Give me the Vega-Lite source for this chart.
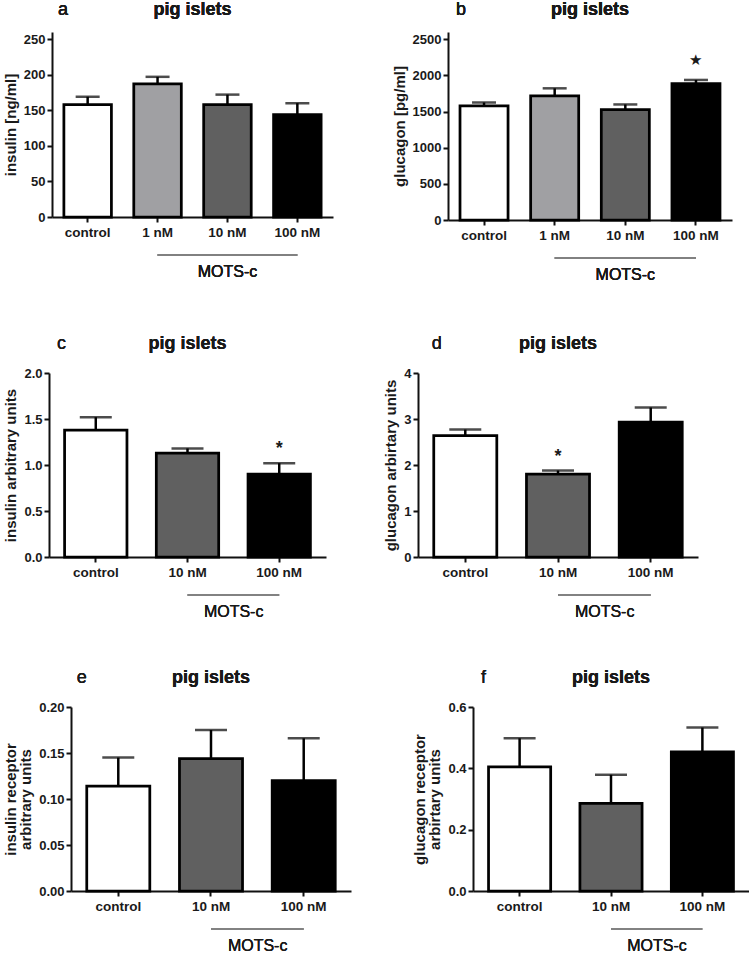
{
  "$schema": "https://vega.github.io/schema/vega-lite/v6.json",
  "padding": {"left": 3, "top": 1, "right": 0, "bottom": 0},
  "background": "white",
  "datasets": {
    "A": [
      {"group": "control", "mean": 158, "hi": 169, "star": ""},
      {"group": "1 nM", "mean": 187, "hi": 197, "star": ""},
      {"group": "10 nM", "mean": 158, "hi": 172, "star": ""},
      {"group": "100 nM", "mean": 144, "hi": 160, "star": ""}
    ],
    "B": [
      {"group": "control", "mean": 1577, "hi": 1625, "star": ""},
      {"group": "1 nM", "mean": 1718, "hi": 1821, "star": ""},
      {"group": "10 nM", "mean": 1528, "hi": 1598, "star": ""},
      {"group": "100 nM", "mean": 1887, "hi": 1937, "star": "★"}
    ],
    "C": [
      {"group": "control", "mean": 1.38, "hi": 1.52, "star": ""},
      {"group": "10 nM", "mean": 1.13, "hi": 1.18, "star": ""},
      {"group": "100 nM", "mean": 0.9, "hi": 1.02, "star": "*"}
    ],
    "D": [
      {"group": "control", "mean": 2.64, "hi": 2.77, "star": ""},
      {"group": "10 nM", "mean": 1.8, "hi": 1.88, "star": "*"},
      {"group": "100 nM", "mean": 2.93, "hi": 3.25, "star": ""}
    ],
    "E": [
      {"group": "control", "mean": 0.114, "hi": 0.145, "star": ""},
      {"group": "10 nM", "mean": 0.144, "hi": 0.175, "star": ""},
      {"group": "100 nM", "mean": 0.12, "hi": 0.166, "star": ""}
    ],
    "F": [
      {"group": "control", "mean": 0.405, "hi": 0.498, "star": ""},
      {"group": "10 nM", "mean": 0.286, "hi": 0.379, "star": ""},
      {"group": "100 nM", "mean": 0.454, "hi": 0.533, "star": ""}
    ]
  },
  "columns": 1,
  "align": "none",
  "spacing": 52,
  "concat": [
    {
      "spacing": 59,
      "hconcat": [
        {
          "width": 284, "height": 185,
          "data": {"name": "A"},
          "encoding": {"x": {"field": "group", "type": "nominal", "sort": null, "scale": {"domain": ["control", "1 nM", "10 nM", "100 nM"], "range": [3, 284], "paddingInner": 0.32, "paddingOuter": 0.17}, "axis": {"title": null, "labelAngle": 0}}},
          "layer": [
            {"mark": {"type": "rule", "strokeWidth": 2.5, "color": "black"}, "encoding": {"y": {"field": "mean", "type": "quantitative", "scale": {"domain": [0, 250]}, "axis": {"title": "insulin [ng/ml]", "values": [0, 50, 100, 150, 200, 250], "format": "d", "offset": -3}}, "y2": {"field": "hi"}}},
            {"mark": {"type": "tick", "size": 24, "thickness": 2.5, "color": "black"}, "encoding": {"y": {"field": "hi", "type": "quantitative", "axis": {"title": "insulin [ng/ml]", "values": [0, 50, 100, 150, 200, 250], "format": "d", "offset": -3}}}},
            {"mark": {"type": "bar", "stroke": "black", "strokeWidth": 2.75}, "encoding": {"y": {"field": "mean", "type": "quantitative", "axis": {"title": "insulin [ng/ml]", "values": [0, 50, 100, 150, 200, 250], "format": "d", "offset": -3}}, "fill": {"field": "group", "type": "nominal", "scale": {"domain": ["control", "1 nM", "10 nM", "100 nM"], "range": ["#ffffff", "#a0a0a3", "#606060", "#000000"]}, "legend": null}}},
            {"mark": {"type": "text", "fontSize": 18, "dy": -29, "dx": -1}, "encoding": {"x": {"datum": "control", "bandPosition": 0}, "y": {"datum": 250, "axis": {"title": "insulin [ng/ml]", "values": [0, 50, 100, 150, 200, 250], "format": "d", "offset": -3}}, "text": {"value": "a"}}},
            {"mark": {"type": "text", "fontSize": 18, "fontWeight": "bold", "dy": -29}, "encoding": {"x": {"datum": "1 nM", "bandPosition": 1.235}, "y": {"datum": 250, "axis": {"title": "insulin [ng/ml]", "values": [0, 50, 100, 150, 200, 250], "format": "d", "offset": -3}}, "text": {"value": "pig islets"}}},
            {"mark": {"type": "rule", "color": "#808080", "strokeWidth": 1.5, "yOffset": 38}, "encoding": {"x": {"datum": "1 nM"}, "x2": {"datum": "100 nM"}, "y": {"datum": 0, "axis": {"title": "insulin [ng/ml]", "values": [0, 50, 100, 150, 200, 250], "format": "d", "offset": -3}}}},
            {"mark": {"type": "text", "fontSize": 16, "dy": 55}, "encoding": {"x": {"datum": "10 nM"}, "y": {"datum": 0, "axis": {"title": "insulin [ng/ml]", "values": [0, 50, 100, 150, 200, 250], "format": "d", "offset": -3}}, "text": {"value": "MOTS-c"}}}
          ]
        },
        {
          "width": 284, "height": 188,
          "data": {"name": "B"},
          "encoding": {"x": {"field": "group", "type": "nominal", "sort": null, "scale": {"domain": ["control", "1 nM", "10 nM", "100 nM"], "paddingInner": 0.32, "paddingOuter": 0.17}, "axis": {"title": null, "labelAngle": 0}}},
          "layer": [
            {"mark": {"type": "rule", "strokeWidth": 2.5, "color": "black"}, "encoding": {"y": {"field": "mean", "type": "quantitative", "scale": {"domain": [0, 2500]}, "axis": {"title": "glucagon [pg/ml]", "values": [0, 500, 1000, 1500, 2000, 2500], "format": "d"}}, "y2": {"field": "hi"}}},
            {"mark": {"type": "tick", "size": 24, "thickness": 2.5, "color": "black"}, "encoding": {"y": {"field": "hi", "type": "quantitative", "axis": {"title": "glucagon [pg/ml]", "values": [0, 500, 1000, 1500, 2000, 2500], "format": "d"}}}},
            {"mark": {"type": "bar", "stroke": "black", "strokeWidth": 2.75}, "encoding": {"y": {"field": "mean", "type": "quantitative", "axis": {"title": "glucagon [pg/ml]", "values": [0, 500, 1000, 1500, 2000, 2500], "format": "d"}}, "fill": {"field": "group", "type": "nominal", "scale": {"domain": ["control", "1 nM", "10 nM", "100 nM"], "range": ["#ffffff", "#a0a0a3", "#606060", "#000000"]}, "legend": null}}},
            {"mark": {"type": "text", "fontSize": 15, "dy": -20, "baseline": "middle"}, "encoding": {"y": {"field": "hi", "type": "quantitative", "axis": {"title": "glucagon [pg/ml]", "values": [0, 500, 1000, 1500, 2000, 2500], "format": "d"}}, "text": {"field": "star"}}},
            {"mark": {"type": "text", "fontSize": 18, "dy": -29, "dx": 1}, "encoding": {"x": {"datum": "control", "bandPosition": 0}, "y": {"datum": 2500, "axis": {"title": "glucagon [pg/ml]", "values": [0, 500, 1000, 1500, 2000, 2500], "format": "d"}}, "text": {"value": "b"}}},
            {"mark": {"type": "text", "fontSize": 18, "fontWeight": "bold", "dy": -29}, "encoding": {"x": {"datum": "1 nM", "bandPosition": 1.235}, "y": {"datum": 2500, "axis": {"title": "glucagon [pg/ml]", "values": [0, 500, 1000, 1500, 2000, 2500], "format": "d"}}, "text": {"value": "pig islets"}}},
            {"mark": {"type": "rule", "color": "#808080", "strokeWidth": 1.5, "yOffset": 38}, "encoding": {"x": {"datum": "1 nM"}, "x2": {"datum": "100 nM"}, "y": {"datum": 0, "axis": {"title": "glucagon [pg/ml]", "values": [0, 500, 1000, 1500, 2000, 2500], "format": "d"}}}},
            {"mark": {"type": "text", "fontSize": 16, "dy": 55}, "encoding": {"x": {"datum": "10 nM"}, "y": {"datum": 0, "axis": {"title": "glucagon [pg/ml]", "values": [0, 500, 1000, 1500, 2000, 2500], "format": "d"}}, "text": {"value": "MOTS-c"}}}
          ]
        }
      ]
    },
    {
      "columns": 1,
      "align": "none",
      "spacing": 49,
      "concat": [
        {
          "spacing": 57,
          "hconcat": [
            {
              "width": 277, "height": 184,
              "data": {"name": "C"},
              "encoding": {"x": {"field": "group", "type": "nominal", "sort": null, "scale": {"domain": ["control", "10 nM", "100 nM"], "paddingInner": 0.32, "paddingOuter": 0.17}, "axis": {"title": null, "labelAngle": 0}}},
              "layer": [
                {"mark": {"type": "rule", "strokeWidth": 2.5, "color": "black"}, "encoding": {"y": {"field": "mean", "type": "quantitative", "scale": {"domain": [0, 2]}, "axis": {"title": "insulin arbitrary units", "values": [0, 0.5, 1, 1.5, 2], "format": ".1f"}}, "y2": {"field": "hi"}}},
                {"mark": {"type": "tick", "size": 32, "thickness": 2.5, "color": "black"}, "encoding": {"y": {"field": "hi", "type": "quantitative", "axis": {"title": "insulin arbitrary units", "values": [0, 0.5, 1, 1.5, 2], "format": ".1f"}}}},
                {"mark": {"type": "bar", "stroke": "black", "strokeWidth": 2.75}, "encoding": {"y": {"field": "mean", "type": "quantitative", "axis": {"title": "insulin arbitrary units", "values": [0, 0.5, 1, 1.5, 2], "format": ".1f"}}, "fill": {"field": "group", "type": "nominal", "scale": {"domain": ["control", "10 nM", "100 nM"], "range": ["#ffffff", "#606060", "#000000"]}, "legend": null}}},
                {"mark": {"type": "text", "fontSize": 18, "fontWeight": "bold", "dy": -14, "baseline": "middle"}, "encoding": {"y": {"field": "hi", "type": "quantitative", "axis": {"title": "insulin arbitrary units", "values": [0, 0.5, 1, 1.5, 2], "format": ".1f"}}, "text": {"field": "star"}}},
                {"mark": {"type": "text", "fontSize": 18, "dy": -29, "dx": -3}, "encoding": {"x": {"datum": "control", "bandPosition": 0}, "y": {"datum": 2, "axis": {"title": "insulin arbitrary units", "values": [0, 0.5, 1, 1.5, 2], "format": ".1f"}}, "text": {"value": "c"}}},
                {"mark": {"type": "text", "fontSize": 18, "fontWeight": "bold", "dy": -29}, "encoding": {"x": {"datum": "10 nM"}, "y": {"datum": 2, "axis": {"title": "insulin arbitrary units", "values": [0, 0.5, 1, 1.5, 2], "format": ".1f"}}, "text": {"value": "pig islets"}}},
                {"mark": {"type": "rule", "color": "#808080", "strokeWidth": 1.5, "yOffset": 38}, "encoding": {"x": {"datum": "10 nM"}, "x2": {"datum": "100 nM"}, "y": {"datum": 0, "axis": {"title": "insulin arbitrary units", "values": [0, 0.5, 1, 1.5, 2], "format": ".1f"}}}},
                {"mark": {"type": "text", "fontSize": 16, "dy": 55}, "encoding": {"x": {"datum": "10 nM", "bandPosition": 1.24}, "y": {"datum": 0, "axis": {"title": "insulin arbitrary units", "values": [0, 0.5, 1, 1.5, 2], "format": ".1f"}}, "text": {"value": "MOTS-c"}}}
              ]
            },
            {
              "width": 280, "height": 184,
              "data": {"name": "D"},
              "encoding": {"x": {"field": "group", "type": "nominal", "sort": null, "scale": {"domain": ["control", "10 nM", "100 nM"], "paddingInner": 0.32, "paddingOuter": 0.17}, "axis": {"title": null, "labelAngle": 0}}},
              "layer": [
                {"mark": {"type": "rule", "strokeWidth": 2.5, "color": "black"}, "encoding": {"y": {"field": "mean", "type": "quantitative", "scale": {"domain": [0, 4]}, "axis": {"title": "glucagon arbirtary units", "values": [0, 1, 2, 3, 4], "format": "d"}}, "y2": {"field": "hi"}}},
                {"mark": {"type": "tick", "size": 32, "thickness": 2.5, "color": "black"}, "encoding": {"y": {"field": "hi", "type": "quantitative", "axis": {"title": "glucagon arbirtary units", "values": [0, 1, 2, 3, 4], "format": "d"}}}},
                {"mark": {"type": "bar", "stroke": "black", "strokeWidth": 2.75}, "encoding": {"y": {"field": "mean", "type": "quantitative", "axis": {"title": "glucagon arbirtary units", "values": [0, 1, 2, 3, 4], "format": "d"}}, "fill": {"field": "group", "type": "nominal", "scale": {"domain": ["control", "10 nM", "100 nM"], "range": ["#ffffff", "#606060", "#000000"]}, "legend": null}}},
                {"mark": {"type": "text", "fontSize": 18, "fontWeight": "bold", "dy": -14, "baseline": "middle"}, "encoding": {"y": {"field": "hi", "type": "quantitative", "axis": {"title": "glucagon arbirtary units", "values": [0, 1, 2, 3, 4], "format": "d"}}, "text": {"field": "star"}}},
                {"mark": {"type": "text", "fontSize": 18, "dy": -29, "dx": 3}, "encoding": {"x": {"datum": "control", "bandPosition": 0}, "y": {"datum": 4, "axis": {"title": "glucagon arbirtary units", "values": [0, 1, 2, 3, 4], "format": "d"}}, "text": {"value": "d"}}},
                {"mark": {"type": "text", "fontSize": 18, "fontWeight": "bold", "dy": -29}, "encoding": {"x": {"datum": "10 nM"}, "y": {"datum": 4, "axis": {"title": "glucagon arbirtary units", "values": [0, 1, 2, 3, 4], "format": "d"}}, "text": {"value": "pig islets"}}},
                {"mark": {"type": "rule", "color": "#808080", "strokeWidth": 1.5, "yOffset": 38}, "encoding": {"x": {"datum": "10 nM"}, "x2": {"datum": "100 nM"}, "y": {"datum": 0, "axis": {"title": "glucagon arbirtary units", "values": [0, 1, 2, 3, 4], "format": "d"}}}},
                {"mark": {"type": "text", "fontSize": 16, "dy": 55}, "encoding": {"x": {"datum": "10 nM", "bandPosition": 1.24}, "y": {"datum": 0, "axis": {"title": "glucagon arbirtary units", "values": [0, 1, 2, 3, 4], "format": "d"}}, "text": {"value": "MOTS-c"}}}
              ]
            }
          ]
        },
        {
          "spacing": 61,
          "hconcat": [
            {
              "width": 302, "height": 184,
              "data": {"name": "E"},
              "encoding": {"x": {"field": "group", "type": "nominal", "sort": null, "scale": {"domain": ["control", "10 nM", "100 nM"], "range": [22, 302], "paddingInner": 0.32, "paddingOuter": 0.17}, "axis": {"title": null, "labelAngle": 0}}},
              "layer": [
                {"mark": {"type": "rule", "strokeWidth": 2.5, "color": "black"}, "encoding": {"y": {"field": "mean", "type": "quantitative", "scale": {"domain": [0, 0.2]}, "axis": {"title": ["insulin receptor", "arbitrary units"], "values": [0, 0.05, 0.1, 0.15, 0.2], "format": ".2f", "offset": -22}}, "y2": {"field": "hi"}}},
                {"mark": {"type": "tick", "size": 32, "thickness": 2.5, "color": "black"}, "encoding": {"y": {"field": "hi", "type": "quantitative", "axis": {"title": ["insulin receptor", "arbitrary units"], "values": [0, 0.05, 0.1, 0.15, 0.2], "format": ".2f", "offset": -22}}}},
                {"mark": {"type": "bar", "stroke": "black", "strokeWidth": 2.75}, "encoding": {"y": {"field": "mean", "type": "quantitative", "axis": {"title": ["insulin receptor", "arbitrary units"], "values": [0, 0.05, 0.1, 0.15, 0.2], "format": ".2f", "offset": -22}}, "fill": {"field": "group", "type": "nominal", "scale": {"domain": ["control", "10 nM", "100 nM"], "range": ["#ffffff", "#606060", "#000000"]}, "legend": null}}},
                {"mark": {"type": "text", "fontSize": 18, "dy": -29, "dx": -5}, "encoding": {"x": {"datum": "control", "bandPosition": 0}, "y": {"datum": 0.2, "axis": {"title": ["insulin receptor", "arbitrary units"], "values": [0, 0.05, 0.1, 0.15, 0.2], "format": ".2f", "offset": -22}}, "text": {"value": "e"}}},
                {"mark": {"type": "text", "fontSize": 18, "fontWeight": "bold", "dy": -29}, "encoding": {"x": {"datum": "10 nM"}, "y": {"datum": 0.2, "axis": {"title": ["insulin receptor", "arbitrary units"], "values": [0, 0.05, 0.1, 0.15, 0.2], "format": ".2f", "offset": -22}}, "text": {"value": "pig islets"}}},
                {"mark": {"type": "rule", "color": "#808080", "strokeWidth": 1.5, "yOffset": 38}, "encoding": {"x": {"datum": "10 nM"}, "x2": {"datum": "100 nM"}, "y": {"datum": 0, "axis": {"title": ["insulin receptor", "arbitrary units"], "values": [0, 0.05, 0.1, 0.15, 0.2], "format": ".2f", "offset": -22}}}},
                {"mark": {"type": "text", "fontSize": 16, "dy": 55}, "encoding": {"x": {"datum": "10 nM", "bandPosition": 1.24}, "y": {"datum": 0, "axis": {"title": ["insulin receptor", "arbitrary units"], "values": [0, 0.05, 0.1, 0.15, 0.2], "format": ".2f", "offset": -22}}, "text": {"value": "MOTS-c"}}}
              ]
            },
            {
              "width": 276, "height": 184,
              "data": {"name": "F"},
              "encoding": {"x": {"field": "group", "type": "nominal", "sort": null, "scale": {"domain": ["control", "10 nM", "100 nM"], "paddingInner": 0.32, "paddingOuter": 0.17}, "axis": {"title": null, "labelAngle": 0}}},
              "layer": [
                {"mark": {"type": "rule", "strokeWidth": 2.5, "color": "black"}, "encoding": {"y": {"field": "mean", "type": "quantitative", "scale": {"domain": [0, 0.6]}, "axis": {"title": ["glucagon receptor", "arbirtary units"], "values": [0, 0.2, 0.4, 0.6], "format": ".1f"}}, "y2": {"field": "hi"}}},
                {"mark": {"type": "tick", "size": 32, "thickness": 2.5, "color": "black"}, "encoding": {"y": {"field": "hi", "type": "quantitative", "axis": {"title": ["glucagon receptor", "arbirtary units"], "values": [0, 0.2, 0.4, 0.6], "format": ".1f"}}}},
                {"mark": {"type": "bar", "stroke": "black", "strokeWidth": 2.75}, "encoding": {"y": {"field": "mean", "type": "quantitative", "axis": {"title": ["glucagon receptor", "arbirtary units"], "values": [0, 0.2, 0.4, 0.6], "format": ".1f"}}, "fill": {"field": "group", "type": "nominal", "scale": {"domain": ["control", "10 nM", "100 nM"], "range": ["#ffffff", "#606060", "#000000"]}, "legend": null}}},
                {"mark": {"type": "text", "fontSize": 18, "dy": -29, "dx": -5}, "encoding": {"x": {"datum": "control", "bandPosition": 0}, "y": {"datum": 0.6, "axis": {"title": ["glucagon receptor", "arbirtary units"], "values": [0, 0.2, 0.4, 0.6], "format": ".1f"}}, "text": {"value": "f"}}},
                {"mark": {"type": "text", "fontSize": 18, "fontWeight": "bold", "dy": -29}, "encoding": {"x": {"datum": "10 nM"}, "y": {"datum": 0.6, "axis": {"title": ["glucagon receptor", "arbirtary units"], "values": [0, 0.2, 0.4, 0.6], "format": ".1f"}}, "text": {"value": "pig islets"}}},
                {"mark": {"type": "rule", "color": "#808080", "strokeWidth": 1.5, "yOffset": 38}, "encoding": {"x": {"datum": "10 nM"}, "x2": {"datum": "100 nM"}, "y": {"datum": 0, "axis": {"title": ["glucagon receptor", "arbirtary units"], "values": [0, 0.2, 0.4, 0.6], "format": ".1f"}}}},
                {"mark": {"type": "text", "fontSize": 16, "dy": 55}, "encoding": {"x": {"datum": "10 nM", "bandPosition": 1.24}, "y": {"datum": 0, "axis": {"title": ["glucagon receptor", "arbirtary units"], "values": [0, 0.2, 0.4, 0.6], "format": ".1f"}}, "text": {"value": "MOTS-c"}}}
              ]
            }
          ]
        }
      ]
    }
  ],
  "config": {
    "font": "Liberation Sans",
    "view": {"stroke": null},
    "axis": {
      "grid": false,
      "domainColor": "#111111", "domainWidth": 2,
      "tickColor": "#111111", "tickWidth": 2, "tickSize": 5,
      "labelFont": "Liberation Sans", "labelFontSize": 13, "labelFontWeight": "bold", "labelColor": "#1a1a1a", "labelPadding": 2,
      "titleFont": "Liberation Sans", "titleFontSize": 15, "titleFontWeight": "bold", "titleColor": "#1a1a1a", "titlePadding": 5, "titleLineHeight": 15
    },
    "axisX": {"labelPadding": 3, "labelFontSize": 13.5},
    "text": {"font": "Liberation Sans", "color": "#1a1a1a"}
  }
}
